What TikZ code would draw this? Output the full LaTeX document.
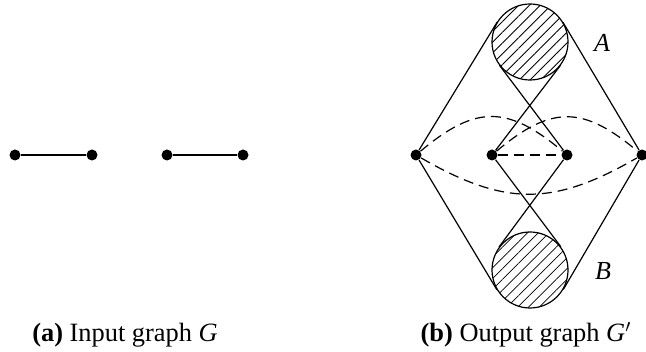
\documentclass[tikz,border=0pt]{standalone}
\usepackage{fontspec}
\setmainfont{Liberation Serif}
\usetikzlibrary{calc,patterns.meta}

\tikzset{
  vtx/.style={circle,fill=black,inner sep=0pt,minimum size=5.5pt},
  blob/.style={circle,draw,line width=0.6pt,inner sep=0pt,minimum size=38pt,
    pattern={Lines[angle=45,distance=3.8pt,line width=0.4pt]}},
  edge/.style={line width=0.6pt},
  virt/.style={line width=0.6pt,dash pattern=on 5pt off 3pt},
  captxt/.style={font=\fontsize{13.2}{15}\selectfont},
  setname/.style={font=\fontsize{13}{15}\selectfont\itshape},
}

\begin{document}
\begin{tikzpicture}[x=0.5pt,y=0.5pt]
\useasboundingbox (0,0) rectangle (646,352);

% input graph
\node[vtx] (u1) at (15,197) {};
\node[vtx] (v1) at (92,197) {};
\node[vtx] (u2) at (167,197) {};
\node[vtx] (v2) at (243,197) {};
\draw[edge] (u1) -- (v1);
\draw[edge] (u2) -- (v2);

% output graph
\node[blob] (A) at (530,310) {};
\node[blob] (B) at (530,82) {};
\node[vtx] (L) at (416,197) {};
\node[vtx] (P) at (492,197) {};
\node[vtx] (Q) at (567,197) {};
\node[vtx] (R) at (642,197) {};

\draw[edge] (L) -- (tangent cs:node=A,point={(L)},solution=2);
\draw[edge] (R) -- (tangent cs:node=A,point={(R)},solution=1);
\draw[edge] (Q) -- (tangent cs:node=A,point={(Q)},solution=2);
\draw[edge] (P) -- (tangent cs:node=A,point={(P)},solution=1);
\draw[edge] (L) -- (tangent cs:node=B,point={(L)},solution=1);
\draw[edge] (R) -- (tangent cs:node=B,point={(R)},solution=2);
\draw[edge] (Q) -- (tangent cs:node=B,point={(Q)},solution=1);
\draw[edge] (P) -- (tangent cs:node=B,point={(P)},solution=2);

\draw[virt] (L) to[out=40,in=140,looseness=1.3] (Q);
\draw[virt] (P) to[out=40,in=140,looseness=1.3] (R);
\draw[virt] (L) to[out=-30,in=-150,looseness=1.15] (R);
\draw[virt] (P) -- (Q);

\node[setname] (labA) at (602,309) {A};
\node[setname] (labB) at (603,81) {B};

% captions
\node[captxt] (capa) at (125,17) {\textbf{(a)} Input graph \textit{G}};
\node[captxt] (capb) at (526,17) {\textbf{(b)} Output graph \textit{G}$'$};
\end{tikzpicture}
\end{document}
